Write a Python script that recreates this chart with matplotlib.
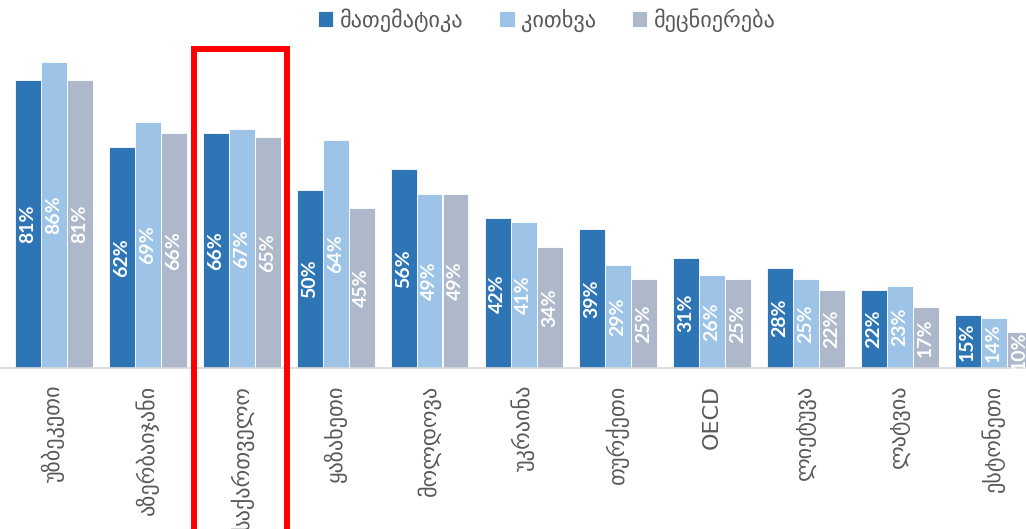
import numpy as np
import matplotlib.pyplot as plt
from matplotlib.patches import Rectangle

countries = ['უზბეკეთი', 'აზერბაიჯანი', 'საქართველო', 'ყაზახეთი', 'მოლდოვა',
             'უკრაინა', 'თურქეთი', 'OECD', 'ლიეტუვა', 'ლატვია', 'ესტონეთი']
math = [81, 62, 66, 50, 56, 42, 39, 31, 28, 22, 15]
reading = [86, 69, 67, 64, 49, 41, 29, 26, 25, 23, 14]
science = [81, 66, 65, 45, 49, 34, 25, 25, 22, 17, 10]
series_names = ['მათემატიკა', 'კითხვა', 'მეცნიერება']
colors = ['#2E75B6', '#9DC3E6', '#ADB9CA']

W, H = 1026, 529
fig = plt.figure(figsize=(W / 100, H / 100), dpi=100)

# axes placed in pixel terms: baseline at y=368, top at y=40
base_px, top_px = 368, 40
ax = fig.add_axes([0, (H - base_px) / H, 1, (base_px - top_px) / H])
px_per_pct = 3.56
step = 94.0
first_center = 53.5
ax.set_xlim((0 - first_center) / step, (W - first_center) / step)
ax.set_ylim(0, (base_px - top_px) / px_per_pct)

x = np.arange(len(countries))
bw = 26 / step
for k, (vals, name, c) in enumerate(zip([math, reading, science], series_names, colors)):
    ax.bar(x + (k - 1) * bw, vals, bw, color=c, edgecolor='white',
           linewidth=0.6, label=name)
    for xi, v in zip(x + (k - 1) * bw, vals):
        ax.text(xi, v / 2, f'{v}%', rotation=90, ha='center', va='center',
                color='white', fontsize=14, fontweight='bold', family='Lato')

for s in ['top', 'right', 'left']:
    ax.spines[s].set_visible(False)
ax.spines['bottom'].set_color('#D9D9D9')
ax.spines['bottom'].set_linewidth(1.2)
ax.set_yticks([])
ax.set_xticks(x)
ax.set_xticklabels(countries, rotation=90, fontsize=16, color='#595959',
                   family='DejaVu Sans', va='top')
ax.tick_params(axis='x', length=0, pad=12)

fig.legend(loc='center', bbox_to_anchor=(0.533, 0.962), ncol=3, frameon=False,
           prop={'family': 'DejaVu Sans', 'size': 16}, labelcolor='#595959',
           handlelength=0.7, handleheight=0.7, handletextpad=0.3, columnspacing=1.6)

# red highlight box around Georgia
rect = Rectangle((194 / W, -10 / H), (287 - 194) / W, (H - 49 + 10) / H,
                 transform=fig.transFigure, fill=False, edgecolor='#FF0000',
                 linewidth=4.3, clip_on=False)
fig.add_artist(rect)

fig.savefig('out.png', dpi=100)
